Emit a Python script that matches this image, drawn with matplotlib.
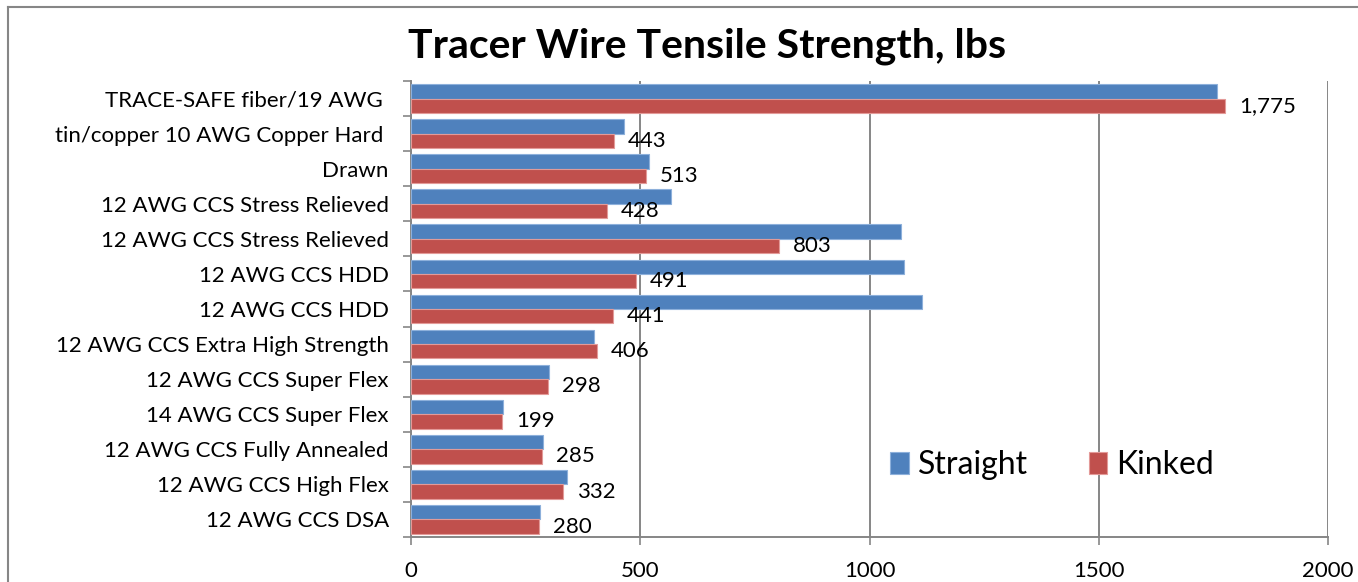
import matplotlib
matplotlib.use('Agg')
import matplotlib.pyplot as plt
from matplotlib.lines import Line2D
import numpy as np

categories = ['TRACE-SAFE fiber/19 AWG ', 'tin/copper 10 AWG Copper Hard ', 'Drawn',
              '12 AWG CCS Stress Relieved', '12 AWG CCS Stress Relieved',
              '12 AWG CCS HDD', '12 AWG CCS HDD', '12 AWG CCS Extra High Strength',
              '12 AWG CCS Super Flex', '14 AWG CCS Super Flex',
              '12 AWG CCS Fully Annealed', '12 AWG CCS High Flex', '12 AWG CCS DSA']
straight = [1757, 465, 520, 568, 1068, 1075, 1114, 399, 300, 200, 287, 340, 281]
kinked = [1775, 443, 513, 428, 803, 491, 441, 406, 298, 199, 285, 332, 280]
x_ticks = [0, 500, 1000, 1500, 2000]

plt.rcParams['font.family'] = ['Lato', 'DejaVu Sans']
grey = '#868686'

fig = plt.figure(figsize=(13.58, 5.82), dpi=100)
ax = fig.add_axes([411/1358, 1 - 537/582, 917/1358, 456/582])

y = np.arange(len(categories))
h = 0.41
ax.barh(y - h/2, straight, height=h, color='#4F81BD', edgecolor='#8DB0DB', linewidth=0.8, label='Straight', zorder=3)
ax.barh(y + h/2, kinked, height=h, color='#C0504D', edgecolor='#E39A98', linewidth=0.8, label='Kinked', zorder=3)

for yi, v in zip(y, kinked):
    ax.annotate(f'{v:,}', (v, yi + h/2), xytext=(10, 0), textcoords='offset points',
                va='center', ha='left', fontsize=16)

ax.set_xlim(0, 2000)
ax.set_ylim(len(categories) - 0.5, -0.5)
ax.set_xticks(x_ticks)
ax.set_xticklabels([str(t) for t in x_ticks], fontsize=16)
ax.set_yticks(y)
ax.set_yticklabels(categories, fontsize=16)
ax.set_yticks(np.arange(-0.5, len(categories)), minor=True)
ax.tick_params(axis='y', which='major', length=0, pad=16)
ax.tick_params(axis='y', which='minor', length=6, width=1.2, color=grey)
ax.tick_params(axis='x', length=6, width=1.2, color=grey, pad=11)

ax.grid(axis='x', color=grey, linewidth=1.4, zorder=0)
for s in ['top', 'right']:
    ax.spines[s].set_visible(False)
for s in ['left', 'bottom']:
    ax.spines[s].set_color(grey)
    ax.spines[s].set_linewidth(1.4)

ax.legend(loc='center', bbox_to_anchor=(0.699, 0.158), ncol=2, frameon=False, fontsize=23,
          handlelength=0.58, handleheight=0.7, handletextpad=0.28, columnspacing=1.9)

fig.text(0.521, 1 - 46/582, 'Tracer Wire Tensile Strength, lbs', ha='center', va='center',
         fontsize=29.5, fontweight='bold')

# chart frame
fig.add_artist(Line2D([8/1358, 8/1358], [0, 1 - 7/582], color=grey, lw=1.5, transform=fig.transFigure))
fig.add_artist(Line2D([8/1358, 1], [1 - 7/582, 1 - 7/582], color=grey, lw=1.5, transform=fig.transFigure))

fig.savefig('out.png', dpi=100)
